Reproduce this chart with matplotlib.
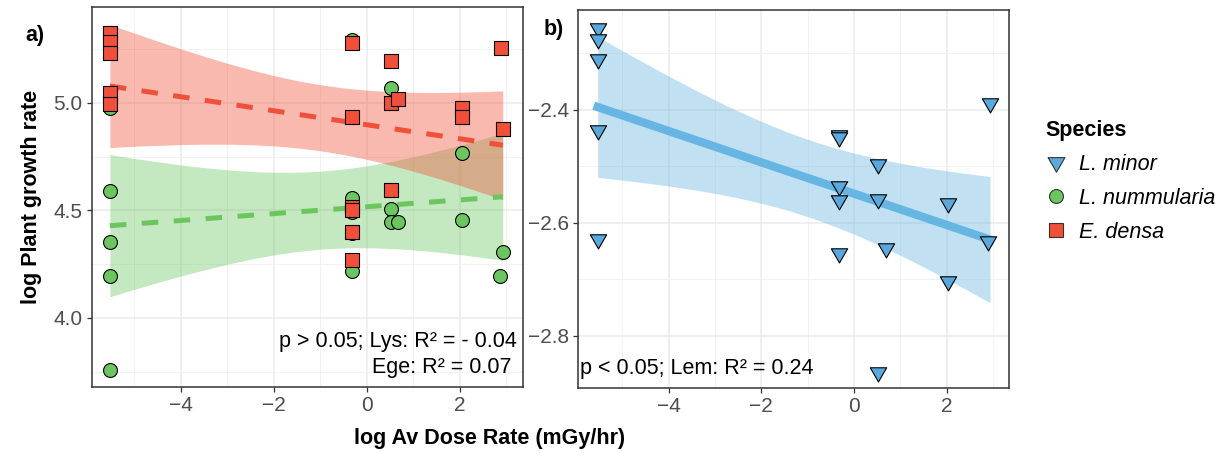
import numpy as np
import matplotlib
matplotlib.use('Agg')
import matplotlib.pyplot as plt
from matplotlib.lines import Line2D
from matplotlib.path import Path

plt.rcParams['font.family'] = ['Liberation Sans', 'DejaVu Sans']

# Panel a: L. nummularia (circles)
lys_dose = [-5.52, -5.52, -5.52, -5.52, -5.52,
            -0.32, -0.32, -0.32, -0.32, -0.32,
            0.52, 0.52, 0.52, 0.68, 2.04, 2.04, 2.92, 2.87]
lys_growth = [4.978, 4.592, 4.352, 4.195, 3.757,
              5.293, 4.560, 4.494, 4.397, 4.217,
              5.068, 4.507, 4.448, 4.448, 4.769, 4.456, 4.308, 4.195]

# Panel a: E. densa (squares)
ege_dose = [-5.52, -5.52, -5.52, -5.52, -5.52,
            -0.32, -0.32, -0.32, -0.32, -0.32, -0.32,
            0.52, 0.52, 0.52, 0.68, 2.04, 2.04, 2.88, 2.92]
ege_growth = [5.324, 5.285, 5.231, 5.048, 4.995,
              5.278, 4.933, 4.517, 4.500, 4.400, 4.271,
              5.195, 5.001, 4.595, 5.017, 4.978, 4.936, 5.257, 4.879]

# Panel b: L. minor (triangles)
lem_dose = [-5.53, -5.53, -5.53, -5.53, -5.53,
            -0.32, -0.32, -0.32, -0.32, -0.32,
            0.52, 0.52, 0.52, 0.69, 2.04, 2.04, 2.94, 2.89]
lem_growth = [-2.255, -2.275, -2.310, -2.435, -2.629,
              -2.444, -2.448, -2.535, -2.560, -2.654,
              -2.495, -2.558, -2.865, -2.645, -2.565, -2.703, -2.387, -2.632]

red = '#F05039'
green = '#6CC65F'
blue = '#5BA8DC'
blue_line = '#66B5E2'

# t quantiles (0.975) by residual degrees of freedom
t975 = {16: 2.120, 17: 2.110}

tri = Path([(-1, 0.577), (1, 0.577), (0, -1.155), (-1, 0.577)],
           [Path.MOVETO, Path.LINETO, Path.LINETO, Path.CLOSEPOLY])


def smooth(ax, x, y, color, ls, lw, zo):
    # linear fit with 95% confidence band, like geom_smooth(method='lm')
    x = np.asarray(x)
    y = np.asarray(y)
    n = len(x)
    slope, icpt = np.polyfit(x, y, 1)
    resid = y - (icpt + slope * x)
    s = np.sqrt(np.sum(resid ** 2) / (n - 2))
    sxx = np.sum((x - x.mean()) ** 2)
    xs = np.linspace(x.min(), x.max(), 100)
    fit = icpt + slope * xs
    half = t975[n - 2] * s * np.sqrt(1 / n + (xs - x.mean()) ** 2 / sxx)
    ax.fill_between(xs, fit - half, fit + half, color=color, alpha=0.4,
                    lw=0, zorder=zo)
    ax.plot(xs, fit, color=color, ls=ls, lw=lw, zorder=zo + 2,
            dash_capstyle='butt')


def style(ax):
    ax.set_xticks([-4, -2, 0, 2])
    ax.set_xticks([-5, -3, -1, 1, 3], minor=True)
    ax.grid(which='major', color='#EBEBEB', lw=1.1, zorder=0)
    ax.grid(which='minor', color='#F2F2F2', lw=0.7, zorder=0)
    ax.set_axisbelow(True)
    for sp in ax.spines.values():
        sp.set_color('#333333')
        sp.set_linewidth(1.1)
    ax.tick_params(which='major', length=3.5, width=0.9, color='#333333',
                   labelsize=15, labelcolor='#4D4D4D', pad=3)
    ax.tick_params(which='minor', length=0)


fig = plt.figure(figsize=(12.28, 4.53), dpi=100)
ax1 = fig.add_axes([0.0747, 0.1464, 0.351, 0.8375])
ax2 = fig.add_axes([0.4709, 0.1441, 0.3508, 0.8340])

# panel a
smooth(ax1, lys_dose, lys_growth, green, (0, (3.3, 3.1)), 3.6, 2)
smooth(ax1, ege_dose, ege_growth, red, (0, (3.3, 3.1)), 3.6, 3)
ax1.scatter(lys_dose, lys_growth, s=100, marker='o', facecolor=green,
            edgecolor='black', lw=0.8, zorder=6)
ax1.scatter(ege_dose, ege_growth, s=92, marker='s', facecolor=red,
            edgecolor='black', lw=0.8, zorder=7)
ax1.set_xlim(-5.91, 3.35)
ax1.set_ylim(3.68, 5.445)
ax1.set_yticks([4.0, 4.5, 5.0])
ax1.set_yticks([3.75, 4.25, 4.75, 5.25], minor=True)
style(ax1)
ax1.set_ylabel('log Plant growth rate', fontsize=15.5, fontweight='bold',
               labelpad=8)
ax1.text(0.987, 0.118, 'p > 0.05; Lys: R² = - 0.04', transform=ax1.transAxes,
         ha='right', va='center', fontsize=15.5)
ax1.text(0.973, 0.05, 'Ege: R² = 0.07', transform=ax1.transAxes,
         ha='right', va='center', fontsize=15.5)

# panel b
smooth(ax2, lem_dose, lem_growth, blue_line, '-', 6, 2)
ax2.scatter(lem_dose, lem_growth, s=185, marker=tri, facecolor=blue,
            edgecolor='black', lw=0.8, zorder=6)
ax2.set_xlim(-5.95, 3.35)
ax2.set_ylim(-2.892, -2.223)
ax2.set_yticks([-2.8, -2.6, -2.4])
ax2.set_yticks([-2.7, -2.5, -2.3], minor=True)
style(ax2)
ax2.text(0.003, 0.05, 'p < 0.05; Lem: R² = 0.24', transform=ax2.transAxes,
         ha='left', va='center', fontsize=15.5)

fig.text(0.399, 0.033, 'log Av Dose Rate (mGy/hr)', ha='center', va='center',
         fontsize=15.5, fontweight='bold')
fig.text(0.0285, 0.921, 'a)', ha='center', va='center', fontsize=15.5,
         fontweight='bold')
fig.text(0.451, 0.934, 'b)', ha='center', va='center', fontsize=15.5,
         fontweight='bold')

handles = [
    Line2D([], [], ls='none', marker=tri, markersize=14, markerfacecolor=blue,
           markeredgecolor='#333333', markeredgewidth=0.8),
    Line2D([], [], ls='none', marker='o', markersize=10, markerfacecolor=green,
           markeredgecolor='#333333', markeredgewidth=0.8),
    Line2D([], [], ls='none', marker='s', markersize=9.6, markerfacecolor=red,
           markeredgecolor='#333333', markeredgewidth=0.8),
]
labels = ['L. minor', 'L. nummularia', 'E. densa']
leg = fig.legend(handles, labels, loc='upper left',
                 bbox_to_anchor=(1045 / 1228, 1 - 120 / 453),
                 frameon=False, title='Species', alignment='left',
                 borderpad=0, borderaxespad=0, handlelength=1.0,
                 handletextpad=0.6, labelspacing=0.6,
                 prop={'size': 15.5, 'style': 'italic'},
                 title_fontproperties={'size': 15.5, 'weight': 'bold'})

fig.savefig('out.png', dpi=100)
